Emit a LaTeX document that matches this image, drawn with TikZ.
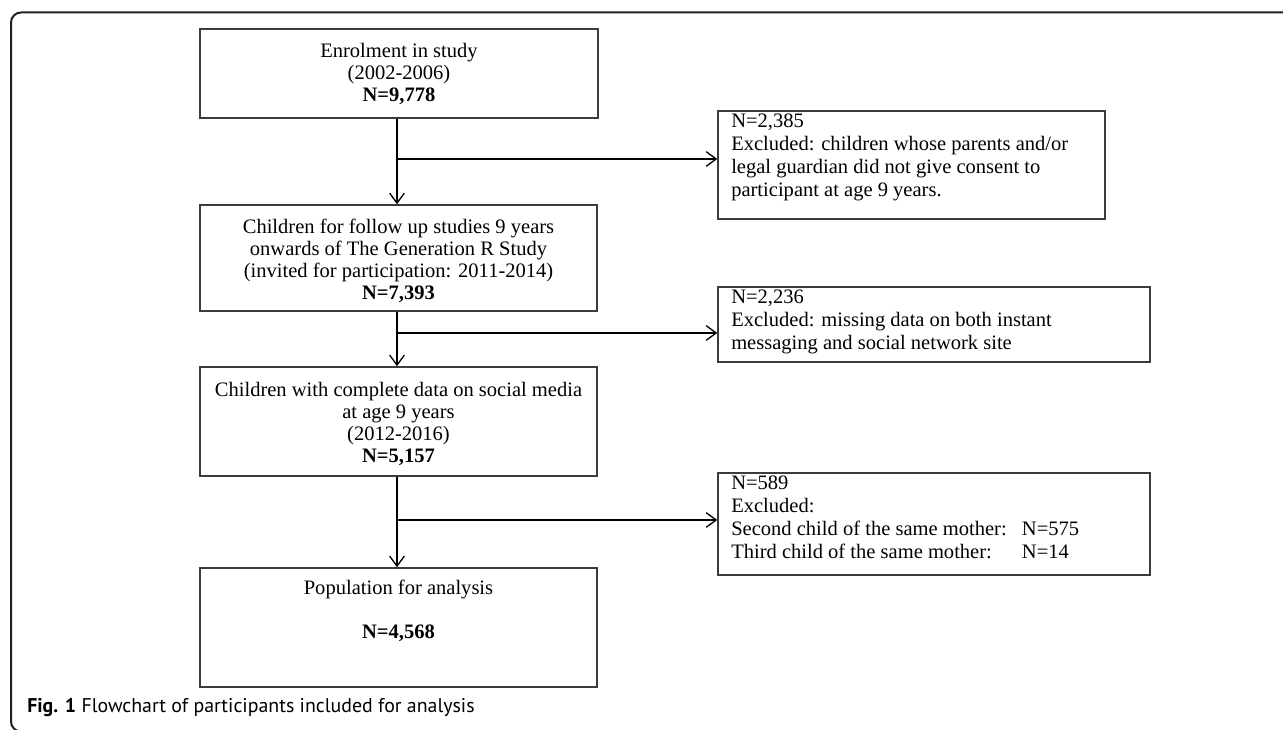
\documentclass[tikz,border=0pt]{standalone}
\usepackage{fontspec}
\setmainfont{Liberation Serif}
\newfontfamily\capfont{PT Sans}
\usetikzlibrary{arrows.meta,fit}
\definecolor{boxline}{HTML}{3C3C3C}
\definecolor{framecol}{HTML}{202020}
\newcommand{\bxfont}{\fontsize{15.4}{16.5}\selectfont}
\newcommand{\rbfont}{\fontsize{15.4}{17.25}\selectfont}
\begin{document}
\begin{tikzpicture}[x=0.75pt,y=-0.75pt,
  box/.style={draw=boxline,line width=1.1pt,inner sep=0pt},
  ctxt/.style={anchor=north,inner sep=0pt,align=center,font=\bxfont},
  rtxt/.style={anchor=north west,inner sep=0pt,align=left,font=\rbfont},
  flow/.style={line width=1pt,-{Straight Barb[length=7.5pt,width=11pt]}},
  frame/.style={draw=framecol,line width=1.5pt,rounded corners=7.5pt}
]
\useasboundingbox (0,0) rectangle (1283,730);
\draw[frame] (1290,12.5) -- (11,12.5) -- (11,731.5) -- (60,731.5);

\node[box,fit={(200,29)(598,118)}] (b1) {};
\node[ctxt] (t1) at (399,43) {Enrolment in study\\(2002-2006)\\\textbf{N=9,778}};

\node[box,fit={(718,111)(1105,219)}] (b2) {};
\node[rtxt] (t2) at (731,114) {N=2,385\\Excluded: children whose parents and/or\\legal guardian did not give consent to\\participant at age 9 years.};

\node[box,fit={(200,205)(597,311)}] (b3) {};
\node[ctxt] (t3) at (398.5,219) {Children for follow up studies 9 years\\onwards of The Generation R Study\\(invited for participation: 2011-2014)\\\textbf{N=7,393}};

\node[box,fit={(718,287)(1150,362)}] (b4) {};
\node[rtxt] (t4) at (731,290) {N=2,236\\Excluded: missing data on both instant\\messaging and social network site};

\node[box,fit={(200,367)(597,476)}] (b5) {};
\node[ctxt] (t5) at (398.5,382) {Children with complete data on social media\\at age 9 years\\(2012-2016)\\\textbf{N=5,157}};

\node[box,fit={(718,473)(1150,575)}] (b6) {};
\node[rtxt] (t6) at (731,476) {N=589\\Excluded:\\\makebox[218pt][l]{Second child of the same mother:}N=575\\\makebox[218pt][l]{Third child of the same mother:}N=14};

\node[box,fit={(200,568)(597,687)}] (b7) {};
\node[ctxt] (t7) at (398.5,580) {Population for analysis\\\mbox{}\\\textbf{N=4,568}};

\coordinate (j1) at (397,159);
\coordinate (j2) at (397,333);
\coordinate (j3) at (397,520);
\draw[flow] (b1.south -| j1) -- (b3.north -| j1);
\draw[flow] (j1) -- (j1 -| b2.west);
\draw[flow] (b3.south -| j2) -- (b5.north -| j2);
\draw[flow] (j2) -- (j2 -| b4.west);
\draw[flow] (b5.south -| j3) -- (b7.north -| j3);
\draw[flow] (j3) -- (j3 -| b6.west);

\node[anchor=west,inner sep=0pt,font=\capfont\fontsize{14.9}{18}\selectfont] (cap) at (27,708) {\textbf{Fig. 1} Flowchart of participants included for analysis};
\end{tikzpicture}
\end{document}
